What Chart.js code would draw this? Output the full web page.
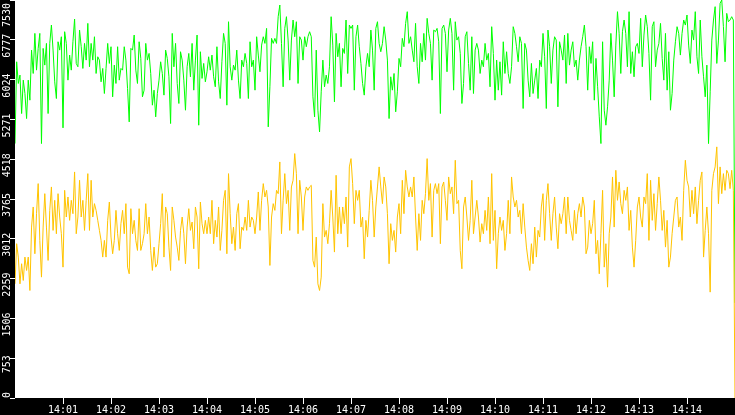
<!DOCTYPE html>
<html>
    <head>
        <title>Rate Plot</title>
        <script src="https://cdn.jsdelivr.net/npm/chart.js@4.4.1/dist/chart.umd.min.js"></script>
        <style>
            html, body {
                margin: 0;
                padding: 0;
                background: #000;
            }
            .chart-container {
                position: relative;
                width: 735px;
                height: 415px;
            }
        </style>
    </head>

    <body>
        <div class="chart-container">
            <canvas id="myChart"></canvas>
        </div>

        <script>
            // the window runs from 14:00:00 to 14:15:00 (900 s)
            var WINDOW_SECONDS = 900;

            var X_TICK_SECONDS = [60, 120, 180, 240, 300, 360, 420, 480, 540, 600, 660, 720, 780, 840];
            var X_TICK_LABELS = ['14:01', '14:02', '14:03', '14:04', '14:05', '14:06', '14:07',
                                 '14:08', '14:09', '14:10', '14:11', '14:12', '14:13', '14:14'];
            var Y_TICKS = [0, 753, 1506, 2259, 3012, 3765, 4518, 5271, 6024, 6777, 7530];

            // green series (upper band), evenly spaced samples
            var greenValues = [
                // 14:00:00 - 14:03:00
                4814, 6361, 5951, 6109, 5382, 6014, 5761, 5287, 6014, 5635,
                6582, 6140, 6898, 6203, 6614, 6898, 4814, 6614, 6298, 6709,
                5382, 6709, 7056, 6582, 5982, 5666, 6740, 6582, 6835, 5111,
                6930, 6709, 6014, 6488, 6203, 6740, 7170, 6330, 6267, 6961,
                6646, 6235, 6709, 6393, 7088, 6267, 6709, 6393, 6835, 6140,
                6456, 6393, 5982, 6235, 5761, 6235, 6709, 6330, 6646, 5698,
                6298, 5951, 6646, 6014, 6235, 6203, 6646, 6393, 5856, 5224,
                6614, 6582, 6867, 6203, 5951, 6740, 6425, 5698, 5824, 6709,
                6393, 6519, 6140, 5540, 5824, 5319, 5761,
                // 14:03:00 - 14:06:00
                6014, 6361, 6140, 5730, 6582, 6425, 6077, 5193, 6898, 6267,
                6709, 5951, 5572, 6551, 6393, 6014, 5445, 6267, 6519, 6077,
                6709, 5824, 6393, 6867, 5161, 6551, 6046, 6330, 5982, 6172,
                6456, 6203, 6488, 6077, 5888, 6646, 5982, 5666, 6361, 6898,
                6709, 5540, 7119, 6267, 6014, 6298, 6203, 6582, 6014, 5666,
                6393, 6267, 6519, 6330, 5666, 6740, 6267, 6393, 5824, 6835,
                6488, 6172, 6677, 6835, 6709, 6993, 5130, 5888, 6804, 6709,
                6804, 6709, 7214, 7435, 6709, 5888, 6993, 7214, 6772, 6014,
                6772, 7151, 6835, 7119, 5951, 6835, 6772,
                // 14:06:00 - 14:09:00
                6393, 6835, 6646, 6835, 6930, 6835, 5698, 5319, 6582, 5445,
                5035, 5793, 6393, 5888, 6109, 5951, 6267, 7214, 6677, 5603,
                6898, 6456, 6709, 5888, 6614, 6519, 7151, 6140, 7056, 6993,
                7056, 5824, 6835, 7056, 6646, 6330, 5951, 5730, 6267, 6519,
                6267, 6961, 6582, 5824, 6993, 7119, 6709, 6551, 6709, 7025,
                6772, 6393, 5287, 6077, 5824, 6140, 5414, 5793, 6425, 6267,
                6804, 6646, 7088, 7309, 6709, 6835, 6582, 6361, 7088, 6267,
                5951, 6709, 6361, 6898, 6393, 7183, 6898, 6709, 6014, 6961,
                6930, 6993, 6740, 5382, 6993, 7056, 6898,
                // 14:09:00 - 14:12:00
                6172, 6961, 7183, 6898, 5824, 7119, 6772, 6835, 6519, 5572,
                5951, 6835, 6930, 6330, 5824, 6835, 5761, 6582, 6709, 6582,
                6140, 6393, 6267, 6709, 6393, 6519, 5888, 7025, 6519, 5635,
                6393, 5824, 6361, 5730, 6740, 6140, 6551, 6140, 5951, 6267,
                7025, 6898, 6646, 6361, 6835, 6709, 5477, 6709, 6582, 6014,
                5698, 6330, 5761, 6014, 6235, 5666, 6393, 6267, 6898, 6456,
                5477, 6961, 6646, 5951, 6582, 6835, 6772, 5509, 6740, 6582,
                6393, 6867, 5951, 6898, 6298, 6582, 6740, 6267, 6393, 6014,
                6393, 6646, 6835, 7056, 6646, 5824, 6646,
                // 14:12:00 - 14:15:00
                6330, 6740, 5635, 6425, 5888, 5319, 4814, 6740, 5445, 5161,
                5509, 6014, 6898, 6393, 5698, 6677, 7309, 6898, 6140, 6930,
                7151, 6898, 6267, 7309, 6140, 6551, 6077, 6646, 6709, 6519,
                7183, 6267, 6867, 7246, 7025, 6519, 5635, 7025, 7119, 6267,
                6582, 6709, 7088, 6425, 6014, 6898, 5824, 6551, 5445, 5761,
                6393, 6740, 7025, 6898, 6488, 6898, 7151, 7056, 7246, 6677,
                6330, 6961, 6772, 7309, 6456, 6140, 7151, 6456, 6077, 5698,
                6298, 4814, 5793, 6772, 7151, 7404, 6330, 6772, 7467, 7530,
                7025, 6361, 7277, 7119, 7151, 7214, 7151,
                1800
            ];

            // yellow series (lower band), same sample times
            var yellowValues = [
                // 14:00:00 - 14:03:00
                2160, 2919, 2666, 2160, 2540, 2224, 2666, 2413, 2666, 2034,
                3234, 3614, 2729, 3487, 4056, 2982, 2287, 3234, 3866, 3234,
                2603, 3550, 3993, 3171, 3740, 3108, 3866, 3424, 3108, 2476,
                3929, 3424, 3803, 3361, 3740, 3487, 4277, 3108, 3424, 4119,
                3424, 3740, 3171, 3740, 4245, 3171, 4119, 3424, 3677, 3550,
                3361, 3171, 2982, 2666, 2982, 2666, 3361, 3708, 3045, 2729,
                2982, 3550, 3108, 2792, 3298, 3550, 3108, 3677, 2476, 2350,
                3582, 3108, 3361, 2982, 2792, 3582, 2792, 2919, 3108, 3677,
                3108, 3424, 2792, 2413, 2855, 2476, 2540,
                // 14:03:00 - 14:06:00
                2919, 3298, 3866, 2666, 3614, 3487, 2855, 2413, 3614, 3361,
                3045, 2855, 2603, 3171, 3424, 3108, 2540, 3234, 3582, 3171,
                3329, 2824, 3614, 3424, 2445, 3708, 3298, 3108, 3361, 3108,
                3424, 3108, 3740, 2919, 3361, 3045, 3614, 2792, 3171, 3740,
                3929, 2729, 4245, 3487, 2919, 3234, 2792, 3487, 3677, 2824,
                3234, 3171, 3424, 3171, 3740, 3234, 3424, 3361, 3108, 3424,
                3898, 3171, 3740, 4056, 3803, 3929, 3614, 2508, 3424, 3677,
                3550, 3929, 3866, 4466, 3108, 3740, 4245, 3677, 3929, 3171,
                3993, 4119, 4624, 4245, 3108, 4119, 3803,
                // 14:06:00 - 14:09:00
                3171, 3803, 3993, 3929, 3993, 4024, 2603, 2476, 3045, 2160,
                2034, 2287, 3677, 3045, 3171, 2919, 3298, 3929, 3424, 2761,
                4214, 3108, 3614, 3108, 3614, 3298, 3803, 2855, 4372, 4529,
                4056, 3298, 3929, 3740, 3929, 3234, 3424, 2634, 3361, 3045,
                3550, 4119, 3740, 3045, 3614, 3993, 4372, 3993, 3677, 4182,
                3993, 3487, 2540, 3298, 2982, 3171, 2761, 3424, 3677, 3108,
                4119, 3487, 4308, 3993, 3803, 3993, 3803, 4182, 3424, 2792,
                3487, 2982, 3740, 3487, 3866, 4529, 3740, 4056, 3045, 3929,
                4056, 3866, 4056, 2919, 3993, 4087, 3740,
                // 14:09:00 - 14:12:00
                3361, 4182, 3866, 3993, 3487, 4498, 3677, 3740, 2792, 2445,
                3614, 3803, 3424, 2982, 3361, 4119, 3108, 3424, 3740, 3424,
                2950, 3298, 3108, 3550, 3171, 3803, 2919, 4245, 2982, 3550,
                2445, 3108, 3424, 3171, 3361, 2792, 3108, 3740, 3108, 4182,
                3803, 3614, 3740, 3424, 3550, 3108, 3677, 3234, 2855, 2603,
                2413, 2919, 2540, 3234, 2666, 3171, 3045, 3614, 3866, 2982,
                3740, 4056, 3487, 2982, 3487, 3803, 3234, 2824, 3487, 3298,
                3487, 3803, 3108, 3803, 3361, 3171, 2982, 3550, 3108, 3487,
                3677, 3424, 3803, 3614, 2729, 2855, 3361,
                // 14:12:00 - 14:15:00
                3108, 3298, 3740, 2729, 2982, 2350, 3108, 3929, 2476, 2919,
                2097, 3108, 3424, 4182, 3234, 4308, 3740, 4087, 3677, 3487,
                3929, 3740, 3993, 3171, 3550, 2855, 2476, 2982, 3614, 3803,
                3424, 3234, 3803, 3677, 4245, 2982, 4119, 3361, 3866, 3171,
                3677, 4182, 3740, 3171, 3550, 2855, 3361, 2476, 2666, 3108,
                3424, 3740, 3803, 3234, 3424, 2982, 3929, 4498, 4119, 3993,
                3424, 3929, 3487, 3993, 3298, 3740, 4119, 4277, 2666, 3171,
                3614, 3108, 2003, 3929, 4245, 4372, 4751, 3677, 4372, 3866,
                4245, 3929, 4308, 4245, 3961, 4308, 3929,
                0
            ];

            function toPoints(values) {
                var step = WINDOW_SECONDS / (values.length - 1);
                return values.map(function(v, i) {
                    return { x: i * step, y: v };
                });
            }

            var FONT = { family: "'DejaVu Sans Mono', monospace", size: 10 };

            // black frame behind the axes, white plot area
            var framePlugin = {
                id: 'frame',
                beforeDraw: function(chart) {
                    var ctx = chart.ctx;
                    var a = chart.chartArea;
                    ctx.save();
                    ctx.fillStyle = '#000';
                    ctx.fillRect(0, 0, chart.width, chart.height);
                    ctx.fillStyle = '#fff';
                    ctx.fillRect(a.left, a.top, a.right - a.left, a.bottom - a.top);
                    ctx.restore();
                }
            };

            // y labels are written sideways, which the library does not do for vertical axes
            var yLabelPlugin = {
                id: 'yLabels',
                afterDraw: function(chart) {
                    var ctx = chart.ctx;
                    var scale = chart.scales.y;
                    var a = chart.chartArea;
                    ctx.save();
                    ctx.fillStyle = '#fff';
                    ctx.font = FONT.size + 'px ' + FONT.family;
                    ctx.textAlign = 'center';
                    ctx.textBaseline = 'alphabetic';
                    scale.ticks.forEach(function(t) {
                        var label = String(Math.round(t.value));
                        var half = ctx.measureText(label).width / 2;
                        var yc = scale.getPixelForValue(t.value) + 6;
                        yc = Math.max(a.top + 3 + half, Math.min(a.bottom - half, yc));
                        ctx.save();
                        ctx.translate(10, yc);
                        ctx.rotate(-Math.PI / 2);
                        ctx.fillText(label, 0, 0);
                        ctx.restore();
                    });
                    ctx.restore();
                }
            };

            var ctx = document.getElementById('myChart').getContext('2d');
            var chart = new Chart(ctx, {
                type: 'line',
                data: {
                    datasets: [{
                        label: 'yellow',
                        data: toPoints(yellowValues),
                        borderColor: '#ffc400',
                        borderWidth: 1,
                        pointRadius: 0,
                        tension: 0,
                        fill: false
                    }, {
                        label: 'green',
                        data: toPoints(greenValues),
                        borderColor: '#00ff00',
                        borderWidth: 1,
                        pointRadius: 0,
                        tension: 0,
                        fill: false
                    }]
                },
                options: {
                    responsive: true,
                    maintainAspectRatio: false,
                    devicePixelRatio: 1,
                    animation: false,
                    layout: { padding: 0 },
                    plugins: {
                        legend: { display: false },
                        tooltip: { enabled: false }
                    },
                    scales: {
                        x: {
                            type: 'linear',
                            min: 0,
                            max: WINDOW_SECONDS,
                            afterBuildTicks: function(scale) {
                                scale.ticks = X_TICK_SECONDS.map(function(s) { return { value: s }; });
                            },
                            afterFit: function(scale) {
                                scale.height = 17;
                            },
                            ticks: {
                                color: '#fff',
                                font: FONT,
                                padding: 0,
                                maxRotation: 0,
                                autoSkip: false,
                                callback: function(value, index) {
                                    return X_TICK_LABELS[index];
                                }
                            },
                            grid: {
                                drawOnChartArea: false,
                                color: '#fff',
                                tickLength: 6
                            },
                            border: { display: false }
                        },
                        y: {
                            min: 0,
                            max: 7530,
                            afterBuildTicks: function(scale) {
                                scale.ticks = Y_TICKS.map(function(v) { return { value: v }; });
                            },
                            afterFit: function(scale) {
                                scale.width = 15;
                            },
                            ticks: { display: false },
                            grid: {
                                drawOnChartArea: false,
                                color: '#fff',
                                tickLength: 5
                            },
                            border: { display: false }
                        }
                    }
                },
                plugins: [framePlugin, yLabelPlugin]
            });
        </script>
    </body>
</html>
